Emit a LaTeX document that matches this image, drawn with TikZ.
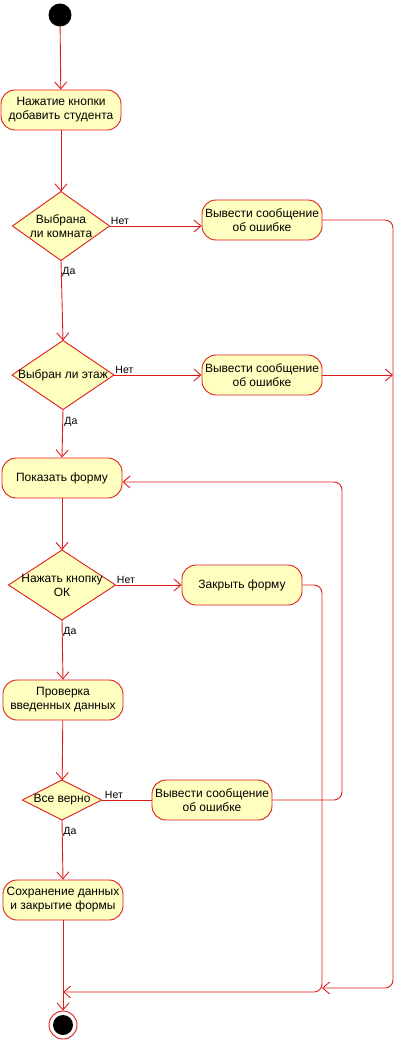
\documentclass[tikz,border=0pt]{standalone}
\usepackage{fontspec}
\setmainfont{Liberation Sans}
\usetikzlibrary{shapes.geometric,arrows.meta}
\definecolor{umlred}{HTML}{E01B1B}
\definecolor{umlfill}{HTML}{FFFFC0}
\begin{document}
\begin{tikzpicture}[x=1pt,y=-1pt,line width=0.9pt,
  act/.style={draw=umlred,fill=umlfill,rectangle,rounded corners=14pt,minimum width=120pt,minimum height=40pt,inner sep=0pt,align=center,text=black,font=\fontsize{12}{14}\selectfont},
  dec/.style={draw=umlred,fill=umlfill,diamond,inner sep=0pt,outer sep=0pt},
  dectext/.style={align=center,text=black,font=\fontsize{12}{14}\selectfont,inner sep=0pt},
  flow/.style={color=umlred,-{Straight Barb[length=7pt,width=12pt]}},
  wire/.style={color=umlred},
  lbl/.style={text=black,font=\fontsize{10.5}{12}\selectfont,inner sep=1pt}]
\useasboundingbox (0,0) rectangle (407,1043);
\node[circle,fill=black,draw=black,minimum size=22pt,inner sep=0pt] (start) at (60,15) {};
\node[act] (a1) at (61,110) {Нажатие кнопки\\добавить студента};
\node[dec,minimum width=97pt,minimum height=69pt,label={[dectext]center:Выбрана\\ли комната}] (d1) at (61,226) {};
\node[act] (e1) at (262,220) {Вывести сообщение\\об ошибке};
\node[dec,minimum width=102pt,minimum height=69pt,label={[dectext]center:Выбран ли этаж}] (d2) at (63,375) {};
\node[act] (e2) at (262,375) {Вывести сообщение\\об ошибке};
\node[act] (s) at (62,478) {Показать форму};
\node[dec,minimum width=107pt,minimum height=70pt,label={[dectext]center:Нажать кнопку\\ОК}] (d3) at (62,585) {};
\node[act] (z) at (242,585) {Закрыть форму};
\node[act] (c) at (63,700) {Проверка\\введенных данных};
\node[dec,minimum width=79pt,minimum height=40pt,label={[dectext]center:Все верно}] (d4) at (62,800) {};
\node[act] (e3) at (212,800) {Вывести сообщение\\об ошибке};
\node[act] (sv) at (63,900) {Сохранение данных\\и закрытие формы};
\node[circle,draw=umlred,fill=white,minimum size=28pt,inner sep=0pt] (fin) at (63,1025) {};
\fill[black] (fin.center) circle (10pt);
\coordinate (r2) at (393,375);
\coordinate (m1) at (322,988);
\coordinate (m2) at (63,992);
\draw[flow] (start) -- (a1);
\draw[flow] (a1) -- (d1);
\draw[flow] (d1.east) -- node[lbl,pos=0,anchor=south west]{Нет} (d1.east -| e1.west);
\draw[flow] (d1.south) -- node[lbl,pos=0,anchor=north west,yshift=-5pt]{Да} (d2.north);
\draw[flow] (d2.east) -- node[lbl,pos=0,anchor=south west]{Нет} (e2.west);
\draw[flow] (e2.east) -- (r2);
\draw[flow,rounded corners=8pt] (e1.east) -- (393,220) -- (393,988) -- (m1);
\draw[flow] (d2.south) -- node[lbl,pos=0,anchor=north west,yshift=-6pt]{Да} (s.north);
\draw[flow] (s) -- (d3);
\draw[flow] (d3.east) -- node[lbl,pos=0,anchor=south west]{Нет} (z.west);
\draw[flow,rounded corners=8pt] (z.east) -- (322,585) -- (322,992) -- (m2);
\draw[flow] (d3.south) -- node[lbl,pos=0,anchor=north west,yshift=-6pt]{Да} (c.north);
\draw[flow] (c) -- (d4);
\draw[wire] (d4.east) -- node[lbl,pos=0,anchor=south west,xshift=2pt]{Нет} (e3.west);
\draw[flow,rounded corners=8pt] (e3.east) -- (342,800) -- (342,482) -- (s.east |- 0,482);
\draw[flow] (d4.south) -- node[lbl,pos=0,anchor=north west,yshift=-6pt]{Да} (sv.north);
\draw[flow] (sv) -- (fin);
\end{tikzpicture}
\end{document}
